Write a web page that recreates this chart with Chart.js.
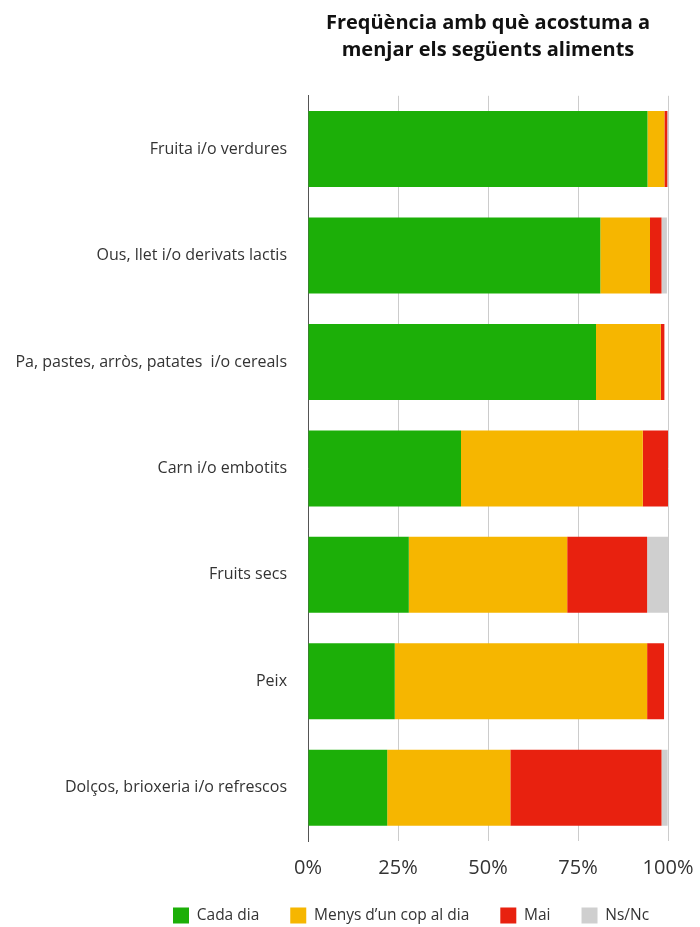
<!DOCTYPE html>
<html>
<head>
<meta charset="utf-8">
<script src="https://cdn.jsdelivr.net/npm/chart.js@4"></script>
<style>
html,body{margin:0;padding:0;background:#fff;}
#wrap{width:700px;height:927px;position:relative;}
</style>
</head>
<body>
<div id="wrap"><canvas id="c"></canvas></div>
<script>
const titleLines = ["Freqüència amb què acostuma a", "menjar els següents aliments"];
const categories = [
  "Fruita i/o verdures",
  "Ous, llet i/o derivats lactis",
  "Pa, pastes, arròs, patates  i/o cereals",
  "Carn i/o embotits",
  "Fruits secs",
  "Peix",
  "Dolços, brioxeria i/o refrescos"
];
const seriesNames = ["Cada dia", "Menys d’un cop al dia", "Mai", "Ns/Nc"];
const cadaDia = [94.3, 81.2, 80.0, 42.5, 28.0, 24.1, 22.0];
const menysDunCop = [4.7, 13.8, 18.0, 50.5, 44.0, 70.1, 34.2];
const mai = [0.8, 3.2, 1.0, 7.0, 22.2, 4.7, 42.0];
const nsNc = [0.2, 1.5, 0.0, 0.0, 5.8, 0.0, 1.7];
const xTicks = [0, 25, 50, 75, 100];

const colors = ["#1caf08", "#f6b600", "#e8210f", "#cfcfcf"];
const FONT = "'Open Sans', Lato, sans-serif";

const shiftPlugin = {
  id: 'shiftPlugin',
  afterLayout(chart) {
    const ca = chart.chartArea;
    if (chart.titleBlock) {
      chart.titleBlock.left = ca.left;
      chart.titleBlock.right = ca.right;
    }
    const lg = chart.legend;
    if (lg && lg.lineWidths) {
      const pad = lg.options.labels.padding;
      const startX = (lg.left + pad + lg.right - lg.lineWidths[0]) / 2;
      const dx = 173 - startX;
      lg.left += dx;
      lg.right += dx;
      const dy = -4.5;
      lg.top += dy;
      lg.bottom += dy;
    }
  }
};

new Chart(document.getElementById('c'), {
  type: 'bar',
  data: {
    labels: categories,
    datasets: [cadaDia, menysDunCop, mai, nsNc].map((d, i) => ({
      label: seriesNames[i],
      data: d,
      backgroundColor: colors[i],
      borderWidth: 0,
      barPercentage: 0.714,
      categoryPercentage: 1.0
    }))
  },
  options: {
    indexAxis: 'y',
    responsive: true,
    maintainAspectRatio: false,
    animation: false,
    layout: { padding: { top: 0, left: 0, right: 32, bottom: -11 } },
    scales: {
      x: {
        stacked: true,
        min: 0,
        max: 100,
        afterBuildTicks: s => { s.ticks = xTicks.map(v => ({ value: v })); },
        afterFit: s => { s.paddingLeft = 0; s.paddingRight = 0; s.height = 40; },
        ticks: {
          callback: v => v + '%',
          color: '#333',
          padding: 15,
          font: { family: FONT, size: 20 }
        },
        grid: { color: '#cccccc', lineWidth: 1, drawTicks: false },
        border: { display: false }
      },
      y: {
        stacked: true,
        afterFit: s => { s.width = 308; },
        ticks: {
          color: '#333',
          padding: 21,
          font: { family: FONT, size: 16 }
        },
        grid: { display: false, drawTicks: false },
        border: { display: true, color: '#555', width: 1 }
      }
    },
    plugins: {
      title: {
        display: true,
        text: titleLines,
        color: '#111',
        font: { family: FONT, size: 20, weight: 'bold', lineHeight: 1.35 },
        padding: { top: 9.5, bottom: 32.3 }
      },
      legend: {
        position: 'bottom',
        labels: {
          boxWidth: 16,
          boxHeight: 16,
          padding: 31,
          color: '#333',
          font: { family: FONT, size: 15.5 }
        }
      },
      tooltip: { enabled: false }
    }
  },
  plugins: [shiftPlugin]
});
</script>
</body>
</html>
